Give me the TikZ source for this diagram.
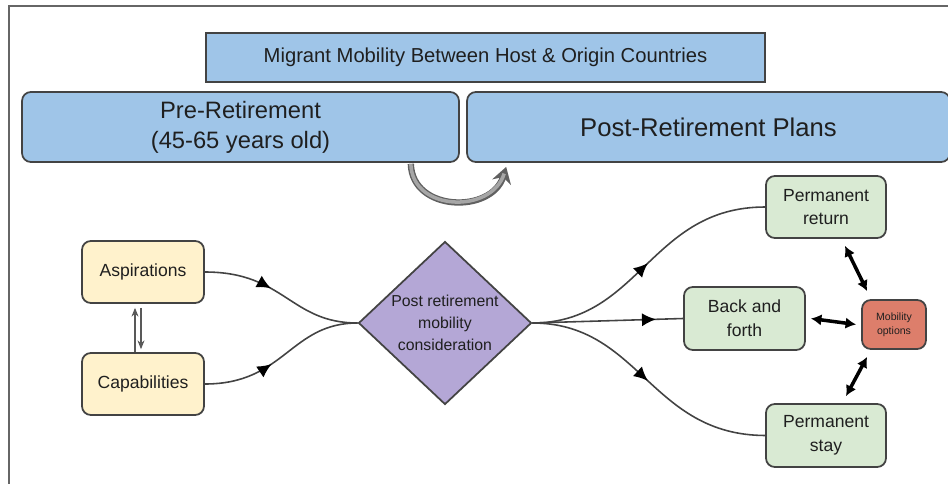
\documentclass[tikz,border=0pt]{standalone}
\usepackage{fontspec}
\setmainfont{Liberation Sans}
\usetikzlibrary{shapes.geometric,arrows.meta,decorations.markings}
\definecolor{edge}{HTML}{434343}
\definecolor{ink}{HTML}{1F1F1F}
\definecolor{skyfill}{HTML}{9FC5E8}
\definecolor{creamfill}{HTML}{FFF2CC}
\definecolor{mintfill}{HTML}{D9EAD3}
\definecolor{lilacfill}{HTML}{B4A7D6}
\definecolor{coralfill}{HTML}{DD7E6B}
\tikzset{
  box/.style={draw=edge,line width=1pt,rounded corners=5pt,inner sep=0pt,align=center,text=ink},
  plan/.style={box,fill=skyfill},
  factor/.style={box,fill=creamfill,minimum width=2.44cm,minimum height=1.24cm,font=\fontsize{10}{13.5}\selectfont},
  choice/.style={box,fill=mintfill,minimum width=2.4cm,minimum height=1.24cm,font=\fontsize{10}{13.5}\selectfont},
  flow/.style={draw=edge,line width=0.9pt},
  midarrow/.style={postaction={decorate},decoration={markings,
    mark=at position #1 with {\arrow[black]{Latex[length=8pt,width=7.5pt]}}}},
  bothway/.style={line width=2pt,{Latex[length=6pt,width=6.5pt]}-{Latex[length=6pt,width=6.5pt]}},
}
\begin{document}
\begin{tikzpicture}[x=0.02cm,y=-0.02cm]
\useasboundingbox (0,0) rectangle (948,484);
% outer frame
\draw[gray!80!black,line width=1.2pt] (9,484) -- (9,6) -- (950,6);

% header boxes
\node[plan,rounded corners=0pt,minimum width=11.18cm,minimum height=0.98cm,
  font=\fontsize{11.5}{13}\selectfont] (title) at (485.5,57.5)
  {Migrant Mobility Between Host \& Origin Countries};
\node[plan,minimum width=8.74cm,minimum height=1.4cm,
  font=\fontsize{13.5}{17}\selectfont] (pre) at (240.5,127)
  {Pre-Retirement\\(45-65 years old)};
\node[plan,minimum width=9.66cm,minimum height=1.4cm,
  font=\fontsize{14.6}{17}\selectfont] (post) at (708.5,127)
  {Post-Retirement Plans};
\draw[line width=3.6pt,gray!75!black,-{Stealth[length=9pt,width=11pt]}]
  ([shift={(-49,1)}]pre.south east) .. controls (412,212) and (492,214) .. ([shift={(40,4)}]post.south west);
\draw[line width=2pt,gray!70,shorten >=4pt]
  ([shift={(-49,1)}]pre.south east) .. controls (412,212) and (492,214) .. ([shift={(40,4)}]post.south west);

% what drives the decision
\node[factor] (asp) at (143,272) {Aspirations};
\node[factor] (cap) at (143,384) {Capabilities};
\draw[gray!70!black,line width=0.6pt,-{Stealth[length=5pt,width=4pt]}]
  ([shift={(-8,0)}]cap.north) -- ([shift={(-8,4)}]asp.south);
\draw[gray!70!black,line width=0.6pt,-{Stealth[length=5pt,width=4pt]}]
  ([shift={(-2,4)}]asp.south) -- ([shift={(-2,-3)}]cap.north);

\node[diamond,draw=edge,line width=1pt,fill=lilacfill,inner sep=0pt,
  minimum width=3.46cm,minimum height=3.26cm,align=center,text=ink,
  font=\fontsize{9}{12.5}\selectfont] (dia) at (445,323)
  {Post retirement\\mobility\\consideration};

\draw[flow,midarrow=0.42] (asp.east) .. controls (285,272) and (290,323) .. (dia.west);
\draw[flow,midarrow=0.42] (cap.east) .. controls (285,384) and (290,323) .. (dia.west);

% the three outcomes
\node[choice] (ret) at (826,207) {Permanent\\return};
\node[choice,minimum width=2.42cm,minimum height=1.26cm] (bf) at (744.5,318.5) {Back and\\forth};
\node[choice,minimum height=1.26cm] (stay) at (826,435.5) {Permanent\\stay};
\node[box,fill=coralfill,minimum width=1.28cm,minimum height=0.98cm,
  font=\fontsize{6}{8}\selectfont] (mob) at (894,324.5) {Mobility\\options};

\draw[flow,midarrow=0.5] (dia.east) .. controls (640,323) and (650,207) .. (ret.west);
\draw[flow,midarrow=0.82] (dia.east) -- (bf.west);
\draw[flow,midarrow=0.5] (dia.east) .. controls (640,323) and (650,435) .. (stay.west);

\draw[bothway] ([shift={(19,7)}]ret.south) -- ([shift={(6,-8)}]mob.north west);
\draw[bothway] ([shift={(5,0)}]bf.east) -- ([shift={(-5,0)}]mob.west);
\draw[bothway] ([shift={(6,7)}]mob.south west) -- ([shift={(20,-7)}]stay.north);
\end{tikzpicture}
\end{document}
